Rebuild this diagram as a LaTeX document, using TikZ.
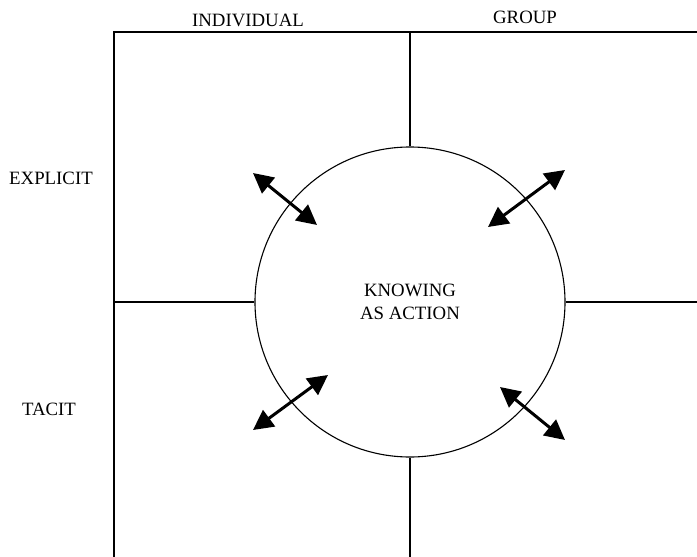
\documentclass[tikz,border=0pt]{standalone}
\usepackage{fontspec}
\setmainfont{Liberation Serif}
\usetikzlibrary{arrows.meta}
\begin{document}
\begin{tikzpicture}[x=1pt,y=-1pt,
  frame/.style={line width=1.5pt},
  label/.style={font=\fontsize{18.8}{22}\selectfont, inner sep=0pt},
  hub/.style={circle, draw, line width=1.1pt, minimum size=310pt, inner sep=0pt,
    align=center, font=\fontsize{18.8}{23}\selectfont},
  flow/.style={line width=3pt,
    {Triangle[length=20pt,width=20pt]}-{Triangle[length=20pt,width=20pt]}}]
  \useasboundingbox (0,0) rectangle (697,557);

  % outer frame, open to the right and bottom
  \coordinate (tl) at (114,32);
  \coordinate (tr) at (697,32);
  \coordinate (bl) at (114,557);
  \draw[frame] (tr) -- (tl) -- (bl);

  % central circle
  \node[hub] (circ) at (410,302) {KNOWING\\AS ACTION};

  % quadrant dividers meeting the circle
  \coordinate (vtop) at (410,32);
  \coordinate (vbot) at (410,557);
  \coordinate (hleft) at (114,302);
  \coordinate (hright) at (697,302);
  \draw[frame] (vtop) -- (circ.north);
  \draw[frame] (circ.south) -- (vbot);
  \draw[frame] (hleft) -- (circ.west);
  \draw[frame] (circ.east) -- (hright);

  % axis labels
  \node[label] (ind) at (248,20) {INDIVIDUAL};
  \node[label] (grp) at (525,17) {GROUP};
  \node[label] (exp) at (51,178) {EXPLICIT};
  \node[label] (tac) at (49,409) {TACIT};

  % exchange arrows across the circle
  \coordinate (a1) at (253,173); \coordinate (b1) at (317,225);
  \coordinate (a2) at (565,170); \coordinate (b2) at (488,227);
  \coordinate (a3) at (328,375); \coordinate (b3) at (253,430);
  \coordinate (a4) at (500,387); \coordinate (b4) at (565,440);
  \draw[flow] (a1) -- (b1);
  \draw[flow] (a2) -- (b2);
  \draw[flow] (a3) -- (b3);
  \draw[flow] (a4) -- (b4);
\end{tikzpicture}
\end{document}
